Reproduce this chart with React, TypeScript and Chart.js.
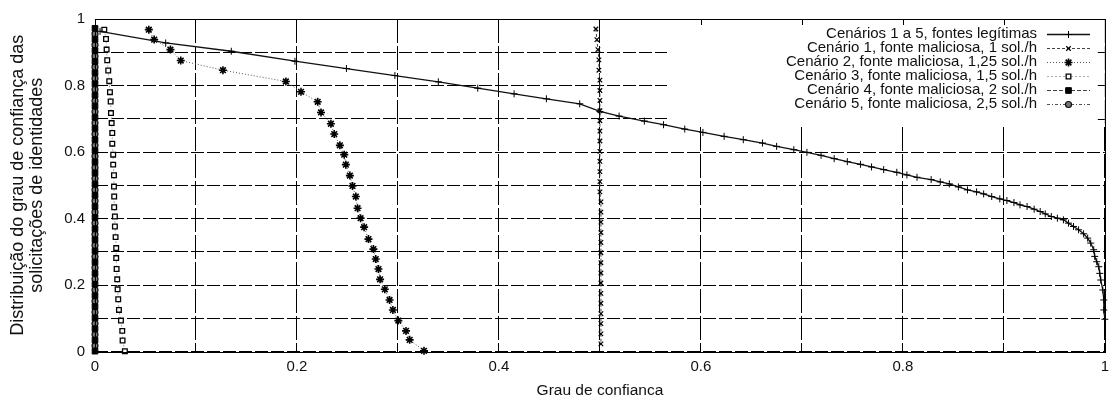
import React, { useEffect, useRef } from 'react';
import { Chart, registerables } from 'chart.js';

Chart.register(...registerables);

const FONT = "'Liberation Sans', Arial, Helvetica, sans-serif";

const seriesLabels = [
  'Cenários 1 a 5, fontes legítimas',
  'Cenário 1, fonte maliciosa, 1 sol./h',
  'Cenário 2, fonte maliciosa, 1,25 sol./h',
  'Cenário 3, fonte maliciosa, 1,5 sol./h',
  'Cenário 4, fonte maliciosa, 2 sol./h',
  'Cenário 5, fonte maliciosa, 2,5 sol./h',
];

const xAxisTitle = 'Grau de confianca';
const yAxisTitle = ['Distribuição do grau de confiança das', 'solicitações de identidades'];

const legitX = [0.005, 0.070, 0.135, 0.198, 0.249, 0.297, 0.340, 0.379, 0.415, 0.447, 0.480, 0.500, 0.519, 0.544, 0.563, 0.584, 0.602, 0.623, 0.642, 0.661, 0.675, 0.692, 0.705, 0.719, 0.732, 0.745, 0.758, 0.769, 0.781, 0.794, 0.804, 0.814, 0.828, 0.837, 0.846, 0.855, 0.864, 0.873, 0.880, 0.888, 0.896, 0.903, 0.910, 0.916, 0.923, 0.930, 0.936, 0.941, 0.947, 0.953, 0.959, 0.964, 0.969, 0.974, 0.979, 0.983, 0.986, 0.989, 0.990, 0.992, 0.994, 0.995, 0.996, 0.998, 0.999, 0.999, 1.0];
const legitY = [0.963, 0.928, 0.903, 0.873, 0.851, 0.830, 0.811, 0.792, 0.775, 0.760, 0.745, 0.722, 0.708, 0.693, 0.682, 0.669, 0.659, 0.647, 0.637, 0.627, 0.617, 0.607, 0.599, 0.590, 0.580, 0.571, 0.563, 0.555, 0.547, 0.539, 0.531, 0.524, 0.517, 0.510, 0.504, 0.495, 0.486, 0.480, 0.474, 0.466, 0.459, 0.454, 0.448, 0.441, 0.436, 0.428, 0.421, 0.414, 0.406, 0.401, 0.396, 0.386, 0.376, 0.366, 0.354, 0.341, 0.326, 0.306, 0.286, 0.270, 0.255, 0.235, 0.215, 0.185, 0.155, 0.125, 0.097];

const scen1X = [0.496, 0.497, 0.498, 0.499, 0.499, 0.500, 0.500, 0.500, 0.500, 0.500, 0.500, 0.500, 0.500, 0.500, 0.500, 0.500, 0.500, 0.501, 0.501, 0.501, 0.501, 0.501, 0.501, 0.501, 0.501, 0.501, 0.501, 0.501, 0.501, 0.501, 0.501, 0.501];
const scen1Y = [0.970, 0.938, 0.908, 0.877, 0.846, 0.816, 0.785, 0.755, 0.724, 0.694, 0.663, 0.633, 0.602, 0.572, 0.541, 0.511, 0.480, 0.450, 0.419, 0.389, 0.358, 0.328, 0.297, 0.267, 0.236, 0.206, 0.175, 0.145, 0.114, 0.084, 0.053, 0.023];

const scen2X = [0.0533, 0.0586, 0.0747, 0.0849, 0.1267, 0.189, 0.204, 0.2205, 0.2238, 0.2336, 0.2369, 0.2425, 0.2468, 0.2484, 0.2524, 0.255, 0.2583, 0.260, 0.263, 0.2665, 0.2708, 0.2757, 0.278, 0.2807, 0.2823, 0.287, 0.2917, 0.295, 0.3004, 0.308, 0.3116, 0.3258];
const scen2Y = [0.968, 0.938, 0.908, 0.875, 0.846, 0.812, 0.781, 0.751, 0.719, 0.685, 0.654, 0.620, 0.592, 0.562, 0.529, 0.498, 0.466, 0.431, 0.401, 0.374, 0.338, 0.308, 0.278, 0.248, 0.217, 0.187, 0.155, 0.125, 0.093, 0.062, 0.035, 0.002];

const scen3X = [0.0092, 0.0109, 0.0115, 0.0121, 0.0131, 0.0141, 0.0148, 0.0155, 0.0158, 0.0165, 0.0171, 0.0171, 0.018, 0.018, 0.0188, 0.0188, 0.019, 0.019, 0.0197, 0.0197, 0.0204, 0.021, 0.021, 0.0214, 0.022, 0.0224, 0.023, 0.0237, 0.0257, 0.027, 0.0273, 0.0296];
const scen3Y = [0.968, 0.940, 0.908, 0.876, 0.845, 0.813, 0.780, 0.752, 0.717, 0.687, 0.657, 0.625, 0.592, 0.562, 0.530, 0.496, 0.466, 0.434, 0.406, 0.376, 0.344, 0.311, 0.281, 0.248, 0.217, 0.187, 0.157, 0.125, 0.093, 0.062, 0.033, 0.001];

const scen4X = [0, 0, 0, 0, 0, 0, 0, 0, 0, 0, 0, 0, 0, 0, 0, 0, 0, 0, 0, 0, 0, 0, 0, 0, 0, 0, 0, 0, 0, 0];
const scen4Y = [0.972, 0.939, 0.905, 0.872, 0.838, 0.805, 0.771, 0.738, 0.704, 0.671, 0.637, 0.604, 0.570, 0.537, 0.503, 0.470, 0.436, 0.403, 0.369, 0.336, 0.302, 0.269, 0.235, 0.202, 0.168, 0.135, 0.101, 0.068, 0.034, 0.001];

const scen5X = [0, 0, 0, 0, 0, 0, 0, 0, 0, 0, 0, 0, 0, 0, 0, 0, 0, 0, 0, 0, 0, 0, 0, 0, 0, 0, 0, 0, 0];
const scen5Y = [0.955, 0.922, 0.888, 0.855, 0.821, 0.788, 0.754, 0.721, 0.687, 0.654, 0.620, 0.587, 0.553, 0.520, 0.486, 0.453, 0.419, 0.386, 0.352, 0.319, 0.285, 0.252, 0.218, 0.185, 0.151, 0.118, 0.084, 0.051, 0.017];

function pts(xs: number[], ys: number[]) {
  return xs.map((x, i) => ({ x, y: ys[i] }));
}

function fmtTick(v: number) {
  const k = Math.round(v * 10);
  if (k % 2 !== 0) return '';
  if (k === 0) return '0';
  if (k === 10) return '1';
  return (k / 10).toFixed(1);
}

function drawMarker(ctx: CanvasRenderingContext2D, style: string, x: number, y: number, r: number, fill: string, stroke: string, lw: number) {
  ctx.save();
  ctx.setLineDash([]);
  ctx.lineWidth = lw;
  ctx.strokeStyle = stroke;
  ctx.fillStyle = fill;
  ctx.beginPath();
  const d = r * Math.SQRT1_2;
  if (style === 'cross' || style === 'star') {
    ctx.moveTo(x - r, y); ctx.lineTo(x + r, y);
    ctx.moveTo(x, y - r); ctx.lineTo(x, y + r);
  }
  if (style === 'crossRot' || style === 'star') {
    ctx.moveTo(x - d, y - d); ctx.lineTo(x + d, y + d);
    ctx.moveTo(x - d, y + d); ctx.lineTo(x + d, y - d);
  }
  if (style === 'rect') {
    ctx.rect(x - d, y - d, 2 * d, 2 * d);
    ctx.fill();
  }
  if (style === 'circle') {
    ctx.arc(x, y, r, 0, Math.PI * 2);
    ctx.fill();
  }
  ctx.stroke();
  ctx.restore();
}

const boxLegend = {
  id: 'boxLegend',
  beforeDatasetsDraw(chart: any) {
    const { ctx, chartArea: a, scales } = chart;
    const xs = scales.x;
    const ys = scales.y;
    const bx = 667;
    const bb = 124;
    ctx.save();
    ctx.fillStyle = '#ffffff';
    ctx.fillRect(bx, a.top + 1, a.right - bx, bb - a.top - 1);
    ctx.strokeStyle = '#000';
    ctx.lineWidth = 1;
    ctx.setLineDash([]);
    ctx.beginPath();
    for (const t of xs.ticks) {
      const px = Math.round(xs.getPixelForValue(t.value)) + 0.5;
      if (px > bx && px < a.right - 1) {
        ctx.moveTo(px, a.top);
        ctx.lineTo(px, a.top + 6);
      }
    }
    for (const t of ys.ticks) {
      const py = Math.round(ys.getPixelForValue(t.value)) + 0.5;
      if (py < bb && py > a.top + 1) {
        ctx.moveTo(a.right - 7, py);
        ctx.lineTo(a.right, py);
      }
    }
    ctx.stroke();

    ctx.font = `15px ${FONT}`;
    ctx.textAlign = 'right';
    ctx.textBaseline = 'middle';
    const dsets = chart.data.datasets;
    for (let i = 0; i < dsets.length; i++) {
      const ds = dsets[i];
      const y = 34 + i * 13.9;
      ctx.fillStyle = '#111';
      ctx.fillText(ds.label, 1037, y);
      ctx.save();
      ctx.strokeStyle = ds.borderColor;
      ctx.lineWidth = ds.borderWidth;
      ctx.setLineDash(ds.borderDash || []);
      ctx.beginPath();
      ctx.moveTo(1047, Math.round(y) + 0.5);
      ctx.lineTo(1090, Math.round(y) + 0.5);
      ctx.stroke();
      ctx.restore();
      drawMarker(ctx, ds.pointStyle, 1068.5, Math.round(y) + 0.5, ds.pointRadius, ds.pointBackgroundColor, ds.pointBorderColor, ds.pointBorderWidth);
    }
    ctx.restore();
  },
  afterDraw(chart: any) {
    const { ctx, chartArea: a } = chart;
    ctx.save();
    ctx.strokeStyle = '#000';
    ctx.lineWidth = 1;
    ctx.setLineDash([]);
    ctx.strokeRect(Math.round(a.left) + 0.5, Math.round(a.top) + 0.5, Math.round(a.right - a.left), Math.round(a.bottom - a.top));
    ctx.restore();
  },
};

export default function App() {
  const ref = useRef<HTMLCanvasElement | null>(null);

  useEffect(() => {
    document.body.style.margin = '0';
    const canvas = ref.current;
    if (!canvas) return;
    const common = { showLine: true, tension: 0, clip: false, pointHoverRadius: 0 };
    const chart = new Chart(canvas, {
      type: 'scatter',
      data: {
        datasets: [
          { ...common, label: seriesLabels[0], data: pts(legitX, legitY), borderColor: '#111', borderWidth: 1.3, borderDash: [], pointStyle: 'cross', pointRadius: 3.5, pointBorderColor: '#000', pointBackgroundColor: '#000', pointBorderWidth: 1 },
          { ...common, label: seriesLabels[1], data: pts(scen1X, scen1Y), borderColor: '#444', borderWidth: 1, borderDash: [3, 2], pointStyle: 'crossRot', pointRadius: 3.2, pointBorderColor: '#000', pointBackgroundColor: '#000', pointBorderWidth: 1.2 },
          { ...common, label: seriesLabels[2], data: pts(scen2X, scen2Y), borderColor: '#555', borderWidth: 1, borderDash: [1, 2], pointStyle: 'star', pointRadius: 4, pointBorderColor: '#000', pointBackgroundColor: '#000', pointBorderWidth: 1.6 },
          { ...common, label: seriesLabels[3], data: pts(scen3X, scen3Y), borderColor: '#aaa', borderWidth: 1, borderDash: [2, 2], pointStyle: 'rect', pointRadius: 3.3, pointBorderColor: '#000', pointBackgroundColor: '#fff', pointBorderWidth: 1.3 },
          { ...common, label: seriesLabels[4], data: pts(scen4X, scen4Y), borderColor: '#444', borderWidth: 1, borderDash: [4, 2], pointStyle: 'rect', pointRadius: 4, pointBorderColor: '#000', pointBackgroundColor: '#000', pointBorderWidth: 1 },
          { ...common, label: seriesLabels[5], data: pts(scen5X, scen5Y), borderColor: '#555', borderWidth: 1, borderDash: [3, 2, 1, 2], pointStyle: 'circle', pointRadius: 3, pointBorderColor: '#111', pointBackgroundColor: '#777', pointBorderWidth: 1.2 },
        ],
      } as any,
      options: {
        animation: false,
        responsive: false,
        devicePixelRatio: 1,
        events: [],
        layout: { padding: { top: 19, right: 7, left: 0, bottom: 0 } },
        plugins: { legend: { display: false }, tooltip: { enabled: false } },
        scales: {
          x: {
            type: 'linear',
            min: 0,
            max: 1,
            afterFit: (s: any) => { s.height = 44.5; },
            ticks: { stepSize: 0.1, autoSkip: false, maxRotation: 0, padding: 6, color: '#111', font: { family: FONT, size: 15 }, callback: (v: any) => fmtTick(Number(v)) },
            grid: { color: '#000', lineWidth: 1, drawTicks: false },
            border: { display: false, dash: [24, 3] },
            title: { display: true, text: xAxisTitle, color: '#111', padding: 0, font: { family: FONT, size: 15.5, lineHeight: 0.65 } },
          },
          y: {
            type: 'linear',
            min: 0,
            max: 1,
            afterFit: (s: any) => { s.width = 95; },
            ticks: { stepSize: 0.1, autoSkip: false, padding: 10, color: '#111', font: { family: FONT, size: 15 }, callback: (v: any) => fmtTick(Number(v)) },
            grid: { color: '#000', lineWidth: 1, drawTicks: false },
            border: { display: false, dash: [13, 3] },
            title: { display: true, text: yAxisTitle, color: '#111', padding: { top: 8.5, bottom: 0 }, font: { family: FONT, size: 18, lineHeight: 1.05 } },
          },
        },
      } as any,
      plugins: [boxLegend],
    });
    return () => chart.destroy();
  }, []);

  return (
    <div style={{ width: 1115, height: 396 }}>
      <canvas ref={ref} width={1115} height={396} style={{ display: 'block' }} />
    </div>
  );
}
